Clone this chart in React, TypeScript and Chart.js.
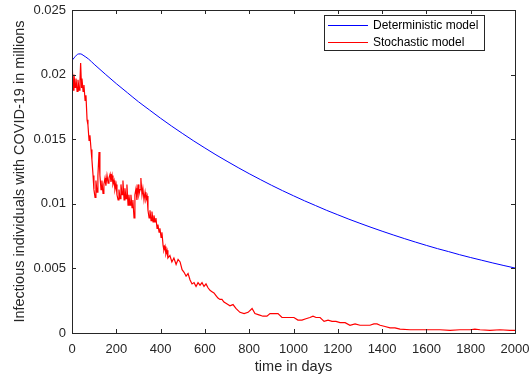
import { useEffect, useRef } from "react";
import { Chart, registerables } from "chart.js";

Chart.register(...registerables);

const seriesLabels = ["Deterministic model", "Stochastic model"];
const seriesColors = ["#0000ff", "#ff0000"];
const xTitle = "time in days";
const yTitle = "Infectious individuals with COVID-19 in millions";

const blueDays = [0, 10, 20, 30, 40, 50, 75, 100, 150, 200, 250, 300, 350, 400, 450, 500, 550, 600, 650, 700, 750, 800, 850, 900, 950, 1000, 1050, 1100, 1150, 1200, 1250, 1300, 1350, 1400, 1450, 1500, 1550, 1600, 1650, 1700, 1750, 1800, 1850, 1900, 1950, 2000];
const blueValues = [0.0211, 0.0213, 0.0215, 0.0216, 0.0216, 0.0215, 0.0212, 0.0208, 0.02004, 0.0193, 0.0186, 0.0179, 0.01726, 0.01662, 0.01601, 0.01543, 0.01486, 0.01432, 0.01379, 0.01329, 0.0128, 0.01233, 0.01188, 0.01144, 0.01102, 0.01062, 0.01023, 0.00986, 0.00949, 0.00915, 0.00881, 0.00849, 0.00818, 0.00788, 0.00759, 0.00731, 0.00704, 0.00678, 0.00653, 0.0063, 0.00606, 0.00584, 0.00563, 0.00542, 0.00522, 0.00503];

const redDays = [0, 5, 9, 14, 18, 23, 27, 32, 36, 39, 43, 45, 50, 54, 59, 63, 68, 72, 77, 81, 86, 90, 95, 99, 104, 108, 113, 117, 122, 126, 131, 135, 140, 144, 149, 153, 158, 163, 167, 172, 176, 181, 185, 190, 194, 199, 203, 208, 212, 217, 221, 226, 230, 235, 239, 244, 248, 253, 257, 262, 266, 271, 275, 280, 284, 289, 293, 298, 302, 307, 311, 316, 320, 325, 330, 334, 339, 343, 348, 352, 357, 361, 366, 370, 375, 379, 384, 388, 393, 397, 402, 406, 411, 415, 420, 424, 429, 433, 442, 451, 460, 470, 479, 488, 497, 506, 515, 524, 533, 542, 551, 560, 569, 578, 587, 596, 605, 614, 623, 632, 641, 650, 659, 668, 677, 686, 695, 704, 713, 727, 740, 758, 777, 795, 813, 826, 844, 862, 880, 894, 912, 930, 948, 966, 984, 1002, 1020, 1038, 1056, 1074, 1088, 1102, 1120, 1138, 1156, 1174, 1192, 1210, 1233, 1255, 1278, 1300, 1323, 1345, 1363, 1377, 1391, 1413, 1436, 1458, 1481, 1526, 1571, 1616, 1661, 1707, 1752, 1797, 1819, 1842, 1887, 1932, 1977, 2000];
const redValues = [0.0213, 0.0188, 0.02, 0.019, 0.0197, 0.0187, 0.0196, 0.0188, 0.0195, 0.0209, 0.019, 0.0197, 0.0187, 0.0192, 0.018, 0.0184, 0.0165, 0.0161, 0.0149, 0.0153, 0.0142, 0.0134, 0.0122, 0.0111, 0.0105, 0.0118, 0.0109, 0.0122, 0.014, 0.0122, 0.0111, 0.0118, 0.0108, 0.0115, 0.012, 0.0114, 0.0122, 0.0116, 0.012, 0.0123, 0.0117, 0.0122, 0.0115, 0.0118, 0.0111, 0.0115, 0.0107, 0.0103, 0.0111, 0.0104, 0.0115, 0.0107, 0.0118, 0.0103, 0.0112, 0.0104, 0.0115, 0.0099, 0.0107, 0.0099, 0.0107, 0.0097, 0.0103, 0.0089, 0.0107, 0.0112, 0.0103, 0.0115, 0.0107, 0.0111, 0.012, 0.0107, 0.0112, 0.0103, 0.0109, 0.0103, 0.0106, 0.0095, 0.0089, 0.0095, 0.0087, 0.0094, 0.0086, 0.0091, 0.0086, 0.0089, 0.0081, 0.0084, 0.0078, 0.0081, 0.0074, 0.0078, 0.0068, 0.0064, 0.0067, 0.0061, 0.0064, 0.0058, 0.006, 0.0055, 0.0058, 0.0053, 0.0057, 0.0055, 0.0049, 0.0047, 0.0044, 0.0046, 0.0041, 0.0038, 0.0039, 0.0036, 0.0039, 0.0037, 0.0039, 0.0036, 0.0038, 0.0035, 0.0033, 0.0032, 0.0031, 0.0029, 0.0027, 0.0026, 0.0026, 0.0024, 0.0023, 0.0022, 0.0021, 0.0022, 0.0019, 0.0016, 0.0015, 0.0016, 0.0019, 0.0015, 0.0014, 0.0013, 0.0013, 0.0015, 0.0015, 0.0015, 0.0012, 0.0012, 0.0012, 0.0012, 0.001, 0.001, 0.0011, 0.0012, 0.0013, 0.0012, 0.0012, 0.0009, 0.001, 0.0009, 0.0009, 0.0008, 0.0008, 0.0006, 0.0007, 0.0006, 0.0006, 0.0006, 0.0007, 0.0007, 0.0006, 0.0005, 0.0004, 0.0004, 0.0003, 0.00025, 0.00025, 0.00025, 0.00025, 0.0002, 0.00025, 0.00025, 0.0003, 0.00025, 0.0002, 0.00025, 0.0002, 0.0002];

const AXIS = "#262626";
const FONT = "'Liberation Sans', Arial, Helvetica, sans-serif";

const boxPlugin = {
  id: "matlabBox",
  afterDraw(chart: any) {
    const { ctx, chartArea } = chart;
    const { left, right, top, bottom } = chartArea;
    ctx.save();
    ctx.strokeStyle = AXIS;
    ctx.lineWidth = 1;
    const tl = 4;
    ctx.beginPath();
    const xs = chart.scales.x;
    xs.ticks.forEach((t: any) => {
      const p = Math.round(xs.getPixelForValue(t.value)) + 0.5;
      ctx.moveTo(p, bottom);
      ctx.lineTo(p, bottom - tl);
      ctx.moveTo(p, top);
      ctx.lineTo(p, top + tl);
    });
    const ys = chart.scales.y;
    ys.ticks.forEach((t: any) => {
      const p = Math.round(ys.getPixelForValue(t.value)) + 0.5;
      ctx.moveTo(left, p);
      ctx.lineTo(left + tl, p);
      ctx.moveTo(right, p);
      ctx.lineTo(right - tl, p);
    });
    ctx.stroke();
    ctx.strokeRect(Math.round(left) + 0.5, Math.round(top) + 0.5, Math.round(right - left), Math.round(bottom - top));

    // legend
    const lx1 = Math.round(right - 191);
    const lx2 = Math.round(right - 31);
    const ly1 = Math.round(top + 5);
    const ly2 = Math.round(top + 40);
    ctx.fillStyle = "#ffffff";
    ctx.fillRect(lx1, ly1, lx2 - lx1, ly2 - ly1);
    ctx.strokeStyle = AXIS;
    ctx.strokeRect(lx1 + 0.5, ly1 + 0.5, lx2 - lx1, ly2 - ly1);
    ctx.font = `12px ${FONT}`;
    ctx.textBaseline = "middle";
    ctx.textAlign = "left";
    seriesLabels.forEach((label, i) => {
      const yy = Math.round(ly1 + 10 + i * 16.5) + 0.5;
      ctx.beginPath();
      ctx.strokeStyle = seriesColors[i];
      ctx.lineWidth = 1;
      ctx.moveTo(lx1 + 4, yy);
      ctx.lineTo(lx1 + 44, yy);
      ctx.stroke();
      ctx.fillStyle = "#000000";
      ctx.fillText(label, lx1 + 49, yy);
    });
    ctx.restore();
  },
};

export default function App() {
  const ref = useRef<HTMLCanvasElement | null>(null);
  useEffect(() => {
    document.body.style.margin = "0";
    const canvas = ref.current;
    if (!canvas) return;
    Chart.defaults.font.family = FONT;
    const chart = new Chart(canvas, {
      type: "line",
      data: {
        datasets: [
          {
            label: seriesLabels[0],
            data: blueDays.map((d, i) => ({ x: d, y: blueValues[i] })),
            borderColor: seriesColors[0],
            borderWidth: 1,
            pointRadius: 0,
            cubicInterpolationMode: "monotone",
            fill: false,
          },
          {
            label: seriesLabels[1],
            data: redDays.map((d, i) => ({ x: d, y: redValues[i] })),
            borderColor: seriesColors[1],
            borderWidth: 1.2,
            pointRadius: 0,
            tension: 0,
            fill: false,
          },
        ],
      },
      options: {
        responsive: false,
        animation: false,
        devicePixelRatio: 1,
        layout: { padding: { left: 0, right: 17, top: 10, bottom: 0 } },
        plugins: { legend: { display: false }, tooltip: { enabled: false } },
        scales: {
          x: {
            type: "linear",
            min: 0,
            max: 2000,
            afterFit: (s: any) => {
              s.height = 48;
              s.paddingLeft = 0;
              s.paddingRight = 0;
            },
            ticks: {
              stepSize: 200,
              color: AXIS,
              font: { size: 13 },
              padding: 9,
              maxRotation: 0,
              autoSkip: false,
              callback: (v: any) => String(v),
            },
            grid: { display: false, drawTicks: false },
            border: { display: false },
            title: {
              display: true,
              text: xTitle,
              color: AXIS,
              font: { size: 14.5 },
              padding: { top: 0, bottom: 5 },
            },
          },
          y: {
            type: "linear",
            min: 0,
            max: 0.025,
            afterFit: (s: any) => {
              s.width = 72;
              s.paddingTop = 0;
              s.paddingBottom = 0;
            },
            ticks: {
              stepSize: 0.005,
              color: AXIS,
              font: { size: 13 },
              padding: 6,
              callback: (v: any) => String(parseFloat(Number(v).toFixed(4))),
            },
            grid: { display: false, drawTicks: false },
            border: { display: false },
            title: {
              display: true,
              text: yTitle,
              color: AXIS,
              font: { size: 14.5 },
              padding: { top: 11, bottom: 0 },
            },
          },
        },
      },
      plugins: [boxPlugin],
    });
    return () => chart.destroy();
  }, []);
  return (
    <div style={{ width: 532, height: 381, background: "#fff" }}>
      <canvas ref={ref} width={532} height={381} style={{ display: "block" }} />
    </div>
  );
}
